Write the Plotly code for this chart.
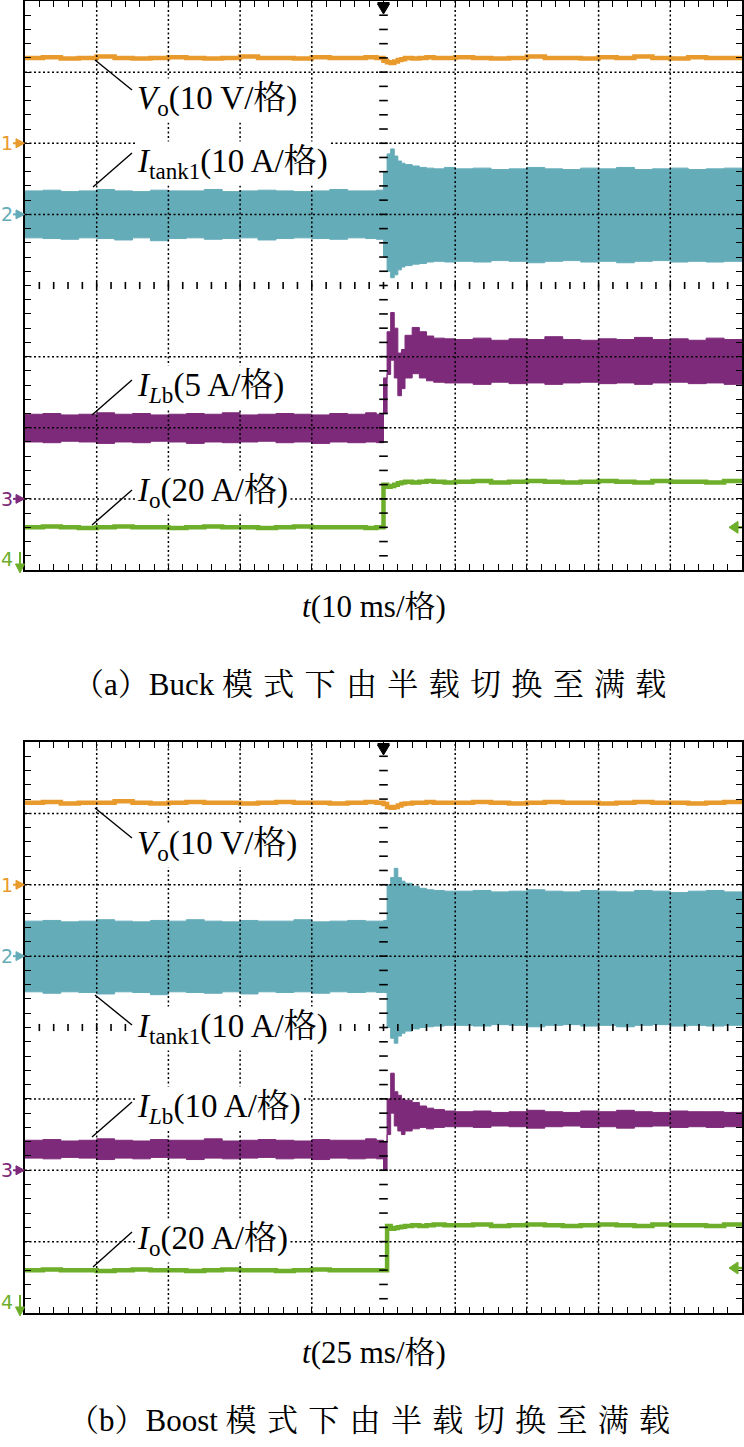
import plotly.graph_objects as go

W, H = 744, 1447

# time in horizontal screen divisions (trigger at 5 div)
T = [0, 0.25, 0.5, 0.75, 1, 1.25, 1.5, 1.75, 2, 2.25, 2.5, 2.75, 3, 3.25, 3.5, 3.75, 4, 4.25, 4.5, 4.75, 4.9,
     5.0, 5.05, 5.1, 5.15, 5.2, 5.25, 5.3, 5.4, 5.5, 5.6, 5.7, 5.85,
     6, 6.25, 6.5, 6.75, 7, 7.25, 7.5, 7.75, 8, 8.25, 8.5, 8.75, 9, 9.25, 9.5, 9.75, 10]

# ---- panel (a) Buck: screen positions in vertical divisions ----
A_VO = [7.20, 7.21, 7.19, 7.20, 7.22, 7.20, 7.19, 7.20, 7.21, 7.20, 7.19, 7.20, 7.22, 7.20, 7.20, 7.19, 7.21, 7.20, 7.20, 7.21, 7.20,
        7.16, 7.14, 7.13, 7.15, 7.17, 7.18, 7.20, 7.19, 7.20, 7.21, 7.20, 7.20,
        7.21, 7.20, 7.19, 7.20, 7.22, 7.20, 7.20, 7.19, 7.21, 7.20, 7.22, 7.20, 7.19, 7.21, 7.20, 7.20, 7.20]
A_TANK_HI = [5.33, 5.34, 5.32, 5.33, 5.35, 5.33, 5.32, 5.34, 5.33, 5.33, 5.35, 5.32, 5.33, 5.34, 5.33, 5.32, 5.33, 5.35, 5.33, 5.33, 5.34,
             5.60, 5.85, 5.92, 5.82, 5.75, 5.72, 5.70, 5.68, 5.66, 5.65, 5.64, 5.66,
             5.64, 5.65, 5.63, 5.64, 5.66, 5.64, 5.63, 5.65, 5.64, 5.66, 5.63, 5.64, 5.65, 5.63, 5.64, 5.65, 5.64]
A_TANK_LO = [4.67, 4.66, 4.65, 4.67, 4.66, 4.64, 4.67, 4.63, 4.66, 4.67, 4.65, 4.66, 4.67, 4.64, 4.66, 4.67, 4.66, 4.65, 4.67, 4.66, 4.65,
             4.40, 4.20, 4.11, 4.15, 4.22, 4.26, 4.28, 4.30, 4.31, 4.33, 4.34, 4.33,
             4.34, 4.33, 4.35, 4.34, 4.32, 4.34, 4.35, 4.33, 4.34, 4.32, 4.34, 4.35, 4.33, 4.34, 4.33, 4.34, 4.35]
A_LB_HI = [2.19, 2.20, 2.18, 2.19, 2.21, 2.19, 2.20, 2.18, 2.19, 2.20, 2.19, 2.21, 2.18, 2.19, 2.20, 2.19, 2.18, 2.20, 2.19, 2.21, 2.19,
           2.70, 3.35, 3.62, 3.40, 3.05, 3.10, 3.30, 3.41, 3.35, 3.29, 3.26, 3.25,
           3.24, 3.26, 3.23, 3.25, 3.24, 3.28, 3.24, 3.23, 3.25, 3.24, 3.27, 3.24, 3.25, 3.23, 3.26, 3.24, 3.25]
A_LB_LO = [1.80, 1.79, 1.81, 1.80, 1.78, 1.80, 1.79, 1.81, 1.80, 1.78, 1.80, 1.79, 1.80, 1.81, 1.79, 1.80, 1.78, 1.80, 1.79, 1.80, 1.79,
           2.20, 2.75, 2.95, 2.70, 2.45, 2.55, 2.70, 2.76, 2.70, 2.66, 2.64, 2.63,
           2.63, 2.61, 2.64, 2.62, 2.63, 2.61, 2.63, 2.64, 2.62, 2.63, 2.61, 2.63, 2.64, 2.62, 2.63, 2.61, 2.63]
A_IO = [0.60, 0.61, 0.60, 0.59, 0.60, 0.61, 0.60, 0.60, 0.59, 0.60, 0.61, 0.60, 0.60, 0.59, 0.60, 0.61, 0.60, 0.60, 0.60, 0.59, 0.60,
        1.20, 1.17, 1.18, 1.20, 1.22, 1.23, 1.24, 1.23, 1.24, 1.25, 1.24, 1.23,
        1.24, 1.25, 1.23, 1.24, 1.25, 1.24, 1.23, 1.24, 1.25, 1.24, 1.23, 1.25, 1.24, 1.24, 1.23, 1.25, 1.24]

# ---- panel (b) Boost ----
B_VO = [7.15, 7.16, 7.14, 7.15, 7.15, 7.17, 7.15, 7.14, 7.15, 7.16, 7.15, 7.15, 7.14, 7.15, 7.16, 7.15, 7.15, 7.14, 7.15, 7.16, 7.15,
        7.13, 7.09, 7.08, 7.09, 7.11, 7.13, 7.14, 7.15, 7.15, 7.16, 7.15, 7.15,
        7.15, 7.16, 7.15, 7.14, 7.15, 7.16, 7.15, 7.15, 7.14, 7.15, 7.16, 7.15, 7.15, 7.14, 7.15, 7.16, 7.15]
B_TANK_HI = [5.49, 5.50, 5.48, 5.49, 5.51, 5.49, 5.48, 5.50, 5.49, 5.51, 5.49, 5.48, 5.50, 5.49, 5.49, 5.51, 5.48, 5.49, 5.50, 5.49, 5.49,
             5.50, 6.00, 6.10, 6.23, 6.10, 6.05, 6.02, 5.98, 5.95, 5.93, 5.92, 5.91,
             5.91, 5.92, 5.90, 5.91, 5.93, 5.91, 5.90, 5.92, 5.91, 5.90, 5.92, 5.91, 5.89, 5.91, 5.92, 5.90, 5.91]
B_TANK_LO = [4.50, 4.48, 4.50, 4.49, 4.47, 4.50, 4.49, 4.46, 4.50, 4.49, 4.48, 4.50, 4.47, 4.50, 4.49, 4.50, 4.48, 4.50, 4.49, 4.50, 4.49,
             4.49, 4.00, 3.85, 3.78, 3.88, 3.92, 3.95, 3.98, 4.00, 4.01, 4.02, 4.03,
             4.03, 4.02, 4.04, 4.03, 4.01, 4.03, 4.04, 4.02, 4.03, 4.01, 4.03, 4.04, 4.02, 4.03, 4.02, 4.03, 4.04]
B_LB_HI = [2.42, 2.43, 2.41, 2.42, 2.44, 2.42, 2.41, 2.43, 2.42, 2.42, 2.44, 2.41, 2.42, 2.43, 2.42, 2.41, 2.43, 2.42, 2.42, 2.44, 2.42,
           2.40, 3.00, 3.36, 3.10, 3.05, 3.00, 2.98, 2.95, 2.90, 2.87, 2.85, 2.83,
           2.82, 2.83, 2.81, 2.82, 2.84, 2.82, 2.81, 2.83, 2.82, 2.84, 2.82, 2.81, 2.83, 2.82, 2.82, 2.81, 2.83]
B_LB_LO = [2.17, 2.16, 2.18, 2.17, 2.15, 2.17, 2.16, 2.18, 2.17, 2.15, 2.17, 2.16, 2.17, 2.18, 2.16, 2.17, 2.15, 2.17, 2.16, 2.17, 2.16,
           2.00, 2.50, 2.80, 2.62, 2.55, 2.50, 2.55, 2.58, 2.60, 2.58, 2.60, 2.61,
           2.61, 2.60, 2.62, 2.61, 2.59, 2.61, 2.62, 2.60, 2.61, 2.59, 2.61, 2.62, 2.60, 2.61, 2.60, 2.61, 2.62]
B_IO = [0.60, 0.61, 0.60, 0.60, 0.59, 0.60, 0.61, 0.60, 0.60, 0.59, 0.60, 0.61, 0.60, 0.60, 0.59, 0.60, 0.61, 0.60, 0.60, 0.60, 0.60,
        0.60, 1.22, 1.18, 1.19, 1.20, 1.21, 1.22, 1.23, 1.22, 1.23, 1.24, 1.23,
        1.23, 1.24, 1.22, 1.23, 1.24, 1.23, 1.22, 1.23, 1.24, 1.23, 1.22, 1.24, 1.23, 1.23, 1.22, 1.24, 1.23]

CH_REF_A = [6.0, 5.0, 1.0]   # channel 1,2,3 ground markers (divisions)
CH_REF_B = [6.0, 5.0, 2.0]
TRIG_A = 0.60
TRIG_B = 0.63

LABELS_A = ["<i>V</i><sub>o</sub>(10 V/格)", "<i>I</i><sub>tank1</sub>(10 A/格)",
            "<i>I</i><sub><i>L</i>b</sub>(5 A/格)", "<i>I</i><sub>o</sub>(20 A/格)"]
LABELS_B = ["<i>V</i><sub>o</sub>(10 V/格)", "<i>I</i><sub>tank1</sub>(10 A/格)",
            "<i>I</i><sub><i>L</i>b</sub>(10 A/格)", "<i>I</i><sub>o</sub>(20 A/格)"]
XLABEL_A = "<i>t</i>(10 ms/格)"
XLABEL_B = "<i>t</i>(25 ms/格)"
CAP_WORDS = ["模", "式", "下", "由", "半", "载", "切", "换", "至", "满", "载"]
CAPTION_A = "（a）Buck " + "\u2004".join(CAP_WORDS)
CAPTION_B = "（b）Boost " + "\u2004".join(CAP_WORDS)

COL = dict(vo="#E99A2C", tank="#65ACB9", lb="#7D2A7A", io="#6DAE2A")
SERIF = "Liberation Serif, Times New Roman, Noto Serif CJK SC, Noto Sans CJK SC"

PLOT_L, PLOT_R = 25, 742
PANEL_Y = [(1, 570), (742, 1313)]


def pxx(px):
    return px / W


def pxy(py):
    return 1 - py / H


fig = go.Figure()


def add_panel(k, vo, thi, tlo, lhi, llo, io, trig):
    xa = "x" if k == 0 else "x2"
    ya = "y" if k == 0 else "y2"
    common = dict(xaxis=xa, yaxis=ya, hoverinfo="skip", showlegend=False)
    # resonant tank current band
    fig.add_trace(go.Scatter(x=T, y=thi, mode="lines", line=dict(color=COL["tank"], width=1, shape="hv"), **common))
    fig.add_trace(go.Scatter(x=T, y=tlo, mode="lines", line=dict(color=COL["tank"], width=1, shape="hv"),
                             fill="tonexty", fillcolor=COL["tank"], **common))
    # inductor current band
    fig.add_trace(go.Scatter(x=T, y=lhi, mode="lines", line=dict(color=COL["lb"], width=1, shape="hv"), **common))
    fig.add_trace(go.Scatter(x=T, y=llo, mode="lines", line=dict(color=COL["lb"], width=1, shape="hv"),
                             fill="tonexty", fillcolor=COL["lb"], **common))
    # output voltage & current
    fig.add_trace(go.Scatter(x=T, y=vo, mode="lines", line=dict(color=COL["vo"], width=4.5, shape="hv"), **common))
    fig.add_trace(go.Scatter(x=T, y=io, mode="lines", line=dict(color=COL["io"], width=4.5, shape="hv"), **common))

    # dotted graticule (drawn above traces like a scope screen)
    gx, gy = [], []
    for v in [1, 2, 3, 4, 6, 7, 8, 9]:
        gx += [v, v, None]
        gy += [0, 8, None]
    for h in [1, 2, 3, 5, 6, 7]:
        gx += [0, 10, None]
        gy += [h, h, None]
    fig.add_trace(go.Scatter(x=gx, y=gy, mode="lines",
                             line=dict(color="black", width=1.5, dash="2px,2.5px"), **common))
    # centre cross tick marks
    cx, cy = [], []
    for i in range(1, 50):
        x = i * 0.2
        cx += [x, x, None]
        cy += [3.95, 4.05, None]
    for j in range(1, 40):
        y = j * 0.2
        cx += [4.94, 5.06, None]
        cy += [y, y, None]
    fig.add_trace(go.Scatter(x=cx, y=cy, mode="lines", line=dict(color="black", width=1.6), **common))
    # trigger level marker (right)
    fig.add_trace(go.Scatter(x=[9.9, 10], y=[trig, trig], mode="lines",
                             line=dict(color=COL["io"], width=2.5), **common))


add_panel(0, A_VO, A_TANK_HI, A_TANK_LO, A_LB_HI, A_LB_LO, A_IO, TRIG_A)
add_panel(1, B_VO, B_TANK_HI, B_TANK_LO, B_LB_HI, B_LB_LO, B_IO, TRIG_B)


def axis(domain, rng, anchor):
    return dict(domain=domain, range=rng, anchor=anchor, showline=True, linecolor="black", linewidth=1.5,
                mirror="allticks", ticks="inside", ticklen=6, tickwidth=1.3, tickcolor="black",
                tickmode="array", tickvals=list(range(1, int(rng[1]))), showticklabels=False,
                showgrid=False, zeroline=False, fixedrange=True,
                minor=dict(ticks="inside", ticklen=6, tickwidth=1.3, tickcolor="black",
                           tickmode="linear", tick0=0, dtick=0.2, showgrid=False))


xdom = [pxx(PLOT_L), pxx(PLOT_R)]
layout = dict(
    width=W, height=H, margin=dict(l=0, r=0, t=0, b=0),
    paper_bgcolor="white", plot_bgcolor="white", showlegend=False, hovermode=False,
    xaxis=axis(xdom, [0, 10], "y"),
    yaxis=axis([pxy(PANEL_Y[0][1]), pxy(PANEL_Y[0][0])], [0, 8], "x"),
    xaxis2=axis(xdom, [0, 10], "y2"),
    yaxis2=axis([pxy(PANEL_Y[1][1]), pxy(PANEL_Y[1][0])], [0, 8], "x2"),
)
fig.update_layout(**layout)

annotations = []
shapes = []


def label(text, ycenter):
    annotations.append(dict(text=text, x=pxx(135), y=pxy(ycenter), xref="paper", yref="paper",
                            xanchor="left", yanchor="middle", showarrow=False, bgcolor="white", borderpad=1,
                            font=dict(family=SERIF, size=33, color="black")))


def leader(p0, p1):
    shapes.append(dict(type="line", xref="paper", yref="paper", x0=pxx(p0[0]), y0=pxy(p0[1]),
                       x1=pxx(p1[0]), y1=pxy(p1[1]), line=dict(color="black", width=1.4)))


def tri(points, color):
    path = "M " + " L ".join(f"{pxx(a):.5f},{pxy(b):.5f}" for a, b in points) + " Z"
    shapes.append(dict(type="path", xref="paper", yref="paper", path=path,
                       fillcolor=color, line=dict(color=color, width=1)))


for txt, yc in zip(LABELS_A, [100, 163, 387, 492]):
    label(txt, yc)
for txt, yc in zip(LABELS_B, [845, 1028, 1108, 1240]):
    label(txt, yc)

leader((95, 60), (132, 90))
leader((93, 187), (132, 153))
leader((92, 415), (132, 380))
leader((92, 525), (132, 490))
leader((95, 808), (132, 838))
leader((95, 995), (132, 1025))
leader((92, 1137), (132, 1102))
leader((93, 1267), (132, 1232))

# channel numbers / ground markers, trigger markers
for k, (top, bottom) in enumerate(PANEL_Y):
    refs = CH_REF_A if k == 0 else CH_REF_B
    trig = TRIG_A if k == 0 else TRIG_B
    for num, ref, col in zip(["1", "2", "3"], refs, [COL["vo"], COL["tank"], COL["lb"]]):
        ypx = bottom - ref * (bottom - top) / 8
        annotations.append(dict(text=num, x=pxx(7), y=pxy(ypx), xref="paper", yref="paper",
                                xanchor="center", yanchor="middle", showarrow=False,
                                font=dict(family="DejaVu Sans", size=19, color=col)))
        tri([(16, ypx - 4.5), (24.5, ypx), (16, ypx + 4.5)], col)
        shapes.append(dict(type="line", xref="paper", yref="paper", x0=pxx(13), x1=pxx(17),
                           y0=pxy(ypx), y1=pxy(ypx), line=dict(color=col, width=2)))
    annotations.append(dict(text="4", x=pxx(7), y=pxy(bottom - 11), xref="paper", yref="paper",
                            xanchor="center", yanchor="middle", showarrow=False,
                            font=dict(family="DejaVu Sans", size=19, color=COL["io"])))
    shapes.append(dict(type="line", xref="paper", yref="paper", x0=pxx(20), x1=pxx(20),
                       y0=pxy(bottom - 18), y1=pxy(bottom - 4), line=dict(color=COL["io"], width=2)))
    tri([(15.5, bottom - 6), (24.5, bottom - 6), (20, bottom + 3)], COL["io"])
    # trigger position (top centre)
    xc = PLOT_L + (PLOT_R - PLOT_L) / 2
    tri([(xc - 6, top + 3), (xc + 6, top + 3), (xc, top + 13)], "black")
    shapes.append(dict(type="line", xref="paper", yref="paper", x0=pxx(xc - 6), x1=pxx(xc + 6),
                       y0=pxy(top + 2), y1=pxy(top + 2), line=dict(color="black", width=2)))
    # trigger level arrow (right)
    ty = bottom - trig * (bottom - top) / 8
    tri([(PLOT_R - 4, ty - 6), (PLOT_R - 4, ty + 6), (PLOT_R - 13, ty)], COL["io"])

# axis titles and captions
for text, yc in [(XLABEL_A, 606), (XLABEL_B, 1352)]:
    annotations.append(dict(text=text, x=pxx(374), y=pxy(yc), xref="paper", yref="paper",
                            xanchor="center", yanchor="middle", showarrow=False,
                            font=dict(family=SERIF, size=31, color="black")))
for text, yc in [(CAPTION_A, 685), (CAPTION_B, 1420)]:
    annotations.append(dict(text=text, x=pxx(369), y=pxy(yc), xref="paper", yref="paper",
                            xanchor="center", yanchor="middle", showarrow=False,
                            font=dict(family=SERIF, size=31, color="black")))

fig.update_layout(annotations=annotations, shapes=shapes)
fig.write_html("out.html")
